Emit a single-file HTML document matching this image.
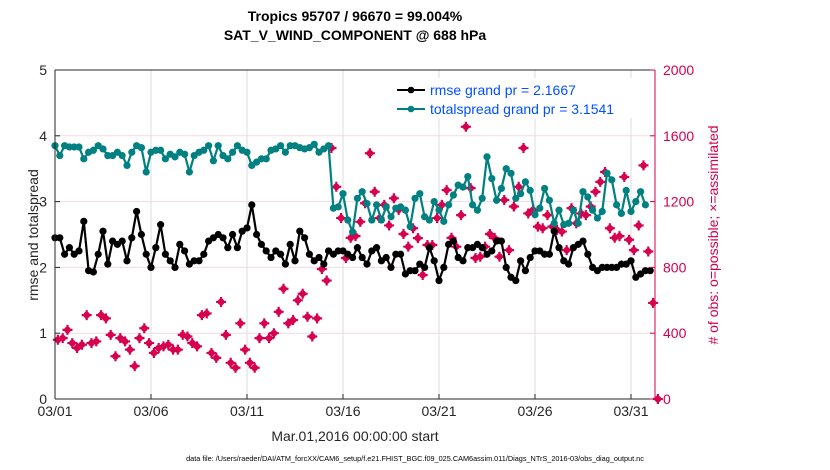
<!DOCTYPE html>
<html><head><meta charset="utf-8"><style>
body{margin:0;background:#fff;}
svg{display:block;font-family:"Liberation Sans",sans-serif;}
</style></head><body>
<svg id="chart" width="830" height="470"></svg>
<script>
const dayTicks = [1, 6, 11, 16, 21, 26, 31];
const dayTickLabels = ["03/01", "03/06", "03/11", "03/16", "03/21", "03/26", "03/31"];
const leftTicks = [0, 1, 2, 3, 4, 5];
const rightTicks = [0, 400, 800, 1200, 1600, 2000];
const rmse = [2.45,2.45,2.2,2.3, 2.2,2.25,2.7,1.95, 1.93,2.2,2.55,2.05, 2.4,2.35,2.4,2.1, 2.45,2.85,2.5,2.2,
 2.0,2.3,2.65,2.2, 2.1,2.0,2.35,2.25, 2.05,2.1,2.1,2.2, 2.4,2.45,2.5,2.45, 2.3,2.5,2.3,2.55,
 2.6,2.95,2.5,2.35, 2.25,2.15,2.25,2.2, 2.05,2.35,2.1,2.55, 2.45,2.2,2.1,2.15, 2.05,2.25,2.2,2.25,
 2.25,2.2,2.15,2.3, 2.15,2.05,2.25,2.3, 2.1,2.15,2.0,2.2, 2.2,1.9,1.95,1.95, 2.05,2.0,2.3,2.1,
 1.8,2.0,2.35,2.4, 2.15,2.1,2.3,2.3, 2.35,2.3,2.2,2.25, 2.4,2.4,2.0,1.85, 1.8,2.1,1.95,2.15,
 2.25,2.25,2.2,2.2, 2.55,2.3,2.1,2.05, 2.3,2.35,2.4,2.2, 2.0,1.95,2.0,2.0, 2.0,2.0,2.05,2.05,
 2.1,1.85,1.9,1.95,1.95];
const spread = [3.85,3.7,3.85,3.83, 3.83,3.83,3.65,3.75, 3.78,3.85,3.8,3.7, 3.7,3.75,3.7,3.55, 3.75,3.85,3.82,3.45,
 3.75,3.78,3.78,3.65, 3.72,3.68,3.75,3.72, 3.45,3.7,3.75,3.78, 3.85,3.62,3.85,3.7, 3.65,3.75,3.85,3.78,
 3.75,3.55,3.6,3.65, 3.65,3.78,3.8,3.85, 3.75,3.85,3.85,3.82, 3.8,3.82,3.87,3.75, 3.8,3.85,
 2.9,2.92,3.12,2.72,2.54,3.05,3.15,2.97,2.72,2.95, 2.72,2.92,2.77,2.9,2.92,2.87,2.62,3.05,3.12,2.77,
 2.72,3.0,2.87,2.7,2.95,3.1,3.25,3.22,3.38,2.95, 2.87,3.05,3.68,3.35,3.02,3.2,3.5,3.43,3.05,3.12,
 3.3,3.17,2.8,2.9,3.2,3.02,2.67,2.87,2.65,2.67, 2.87,2.67,3.15,3.07,2.87,2.75,2.85,3.43,3.33,2.95,
 2.82,3.17,2.85,3.0,3.15,2.95];
const obsCount = [360,370,420,340,310,330,510,340,350,510,490,390,260,370,350,300,200,370,430,340,
 280,310,320,330,300,300,390,380,340,320,510,520,280,250,590,390,220,190,460,300,
 220,190,370,460,370,400,530,670,460,480,600,640,500,380,490,790,720,
 1526,1290,1100,857,980,990,1077,1190,1494,1260,1100,1180,1055,1220,1150,1003,926,1038,978,754,
 936,936,1100,1180,1270,980,926,1118,1655,1282,857,865,926,1003,978,865,1210,905,1170,1290,
 1526,1128,1150,1048,1038,1118,1048,1028,1018,905,1160,1068,1128,1118,1170,1260,1320,1380,1038,980,
 990,1350,968,905,1055,1420,897,584,0];

const NS="http://www.w3.org/2000/svg";
const svg=document.getElementById('chart');
const L=55,R=655,T=70,B=399;
const X0=1,X1=1+(R-L)/19.2;
const xs=d=>L+(d-X0)/(X1-X0)*(R-L);
const yl=v=>B-v/5*(B-T);
const yr=v=>B-v/2000*(B-T);
function mk(tag,attrs,parent){const e=document.createElementNS(NS,tag);for(const k in attrs)e.setAttribute(k,attrs[k]);(parent||svg).appendChild(e);return e;}
function tx(s,attrs,parent){const e=mk('text',attrs,parent);e.textContent=s;return e;}

const grid=mk('g',{});


dayTicks.forEach(d=>mk('line',{x1:xs(d),x2:xs(d),y1:T,y2:B,stroke:'#dcdcdc','stroke-width':1},grid));
rightTicks.forEach(v=>mk('line',{x1:L,x2:R,y1:yr(v),y2:yr(v),stroke:'#f0dbe3','stroke-width':1},grid));

const pink=mk('g',{fill:'#d6004f',stroke:'#d6004f'});


obsCount.forEach((v,i)=>{const x=xs(1.15+i*0.25),y=yr(v);
 const g=mk('g',{},pink);
 
 
 mk('circle',{cx:x,cy:y,r:3.3,stroke:'none'},g);
 mk('path',{d:`M${x-5} ${y}H${x+5}M${x} ${y-5}V${y+5}`,'stroke-width':2.2,fill:'none'},g);
});
function series(arr,color,name){
 const g=mk('g',{});
 
 
 const pts=arr.map((v,i)=>[xs(1+i*0.25),yl(v)]);
 mk('polyline',{points:pts.map(p=>p.join(',')).join(' '),fill:'none',stroke:color,'stroke-width':2.2,'stroke-linejoin':'round'},g);
 pts.forEach(p=>mk('circle',{cx:p[0],cy:p[1],r:3.6,fill:color},g));
}
series(spread,'#008080','totalspread-series');
series(rmse,'#000','rmse-series');

const ax=mk('g',{});


mk('line',{x1:L,x2:R,y1:B,y2:B,stroke:'#262626'},ax);
mk('line',{x1:L,x2:R,y1:T,y2:T,stroke:'#262626'},ax);
mk('line',{x1:L,x2:L,y1:T,y2:B,stroke:'#262626'},ax);
mk('line',{x1:R,x2:R,y1:T,y2:B,stroke:'#d6004f'},ax);
dayTicks.forEach((d,i)=>{mk('line',{x1:xs(d),x2:xs(d),y1:B,y2:B-5,stroke:'#262626'},ax);
 const t=tx(dayTickLabels[i],{x:xs(d),y:B+17,'text-anchor':'middle','font-size':14,fill:'#262626'},ax);
 });
leftTicks.forEach(v=>{mk('line',{x1:L,x2:L+5,y1:yl(v),y2:yl(v),stroke:'#262626'},ax);
 const t=tx(String(v),{x:L-8,y:yl(v)+5,'text-anchor':'end','font-size':14,fill:'#262626'},ax);
 });
rightTicks.forEach(v=>{mk('line',{x1:R-5,x2:R,y1:yr(v),y2:yr(v),stroke:'#d6004f'},ax);
 const t=tx(String(v),{x:R+8,y:yr(v)+5,'font-size':14,fill:'#d6004f'},ax);
 });
</script>
<svg style="position:absolute;left:0;top:0" width="830" height="470">
 <g font-family="Liberation Sans, sans-serif">
 <text x="355" y="21" text-anchor="middle" font-size="14" font-weight="bold" fill="#000">Tropics 95707 / 96670 = 99.004%</text>
 <text x="355" y="40" text-anchor="middle" font-size="14" font-weight="bold" fill="#000">SAT_V_WIND_COMPONENT @ 688 hPa</text>
 <text transform="translate(38,235) rotate(-90)" text-anchor="middle" font-size="14" fill="#262626">rmse and totalspread</text>
 <text transform="translate(718,235) rotate(-90)" text-anchor="middle" font-size="14" fill="#d6004f"># of obs: o=possible; ×=assimilated</text>
 <text x="355" y="441" text-anchor="middle" font-size="14" fill="#262626">Mar.01,2016 00:00:00 start</text>
 <text x="415" y="461" text-anchor="middle" font-size="7.3" fill="#000">data file: /Users/raeder/DAI/ATM_forcXX/CAM6_setup/f.e21.FHIST_BGC.f09_025.CAM6assim.011/Diags_NTrS_2016-03/obs_diag_output.nc</text>
 <g>
  <rect x="390" y="78" width="262" height="40" fill="#fff"/>
  <line x1="397" x2="425" y1="90" y2="90" stroke="#000" stroke-width="2"/><circle cx="411" cy="90" r="3.3" fill="#000"/>
  <text x="430" y="95" font-size="14" fill="#0050ff">rmse grand pr = 2.1667</text>
  <line x1="397" x2="425" y1="109" y2="109" stroke="#008080" stroke-width="2"/><circle cx="411" cy="109" r="3.3" fill="#008080"/>
  <text x="430" y="114" font-size="14" fill="#0050ff">totalspread grand pr = 3.1541</text>
 </g>
 </g>
</svg>
</body></html>
